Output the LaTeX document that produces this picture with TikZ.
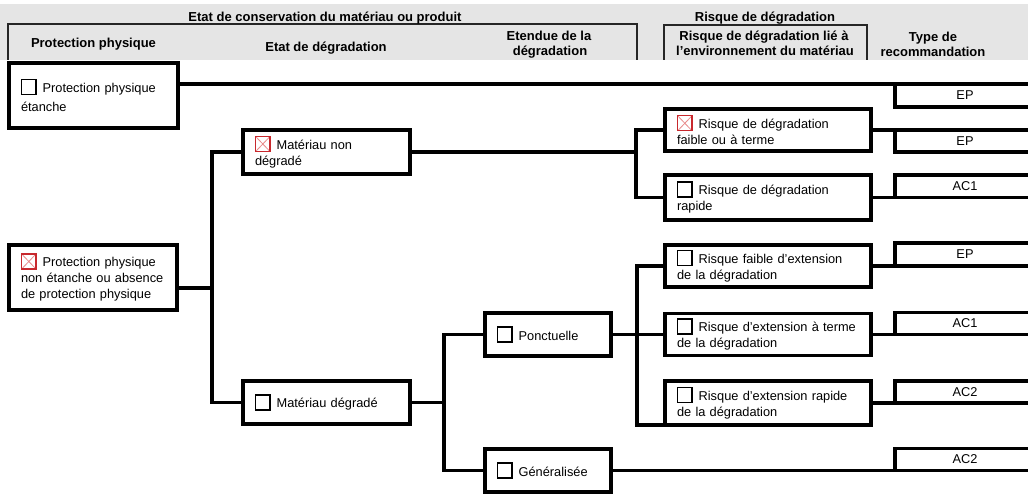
\documentclass[tikz,border=0pt]{standalone}
\usepackage{fontspec}
\setmainfont{Liberation Sans}
\definecolor{hdrgray}{RGB}{229,229,229}
\definecolor{cbred}{RGB}{200,40,45}
\definecolor{cbpink}{RGB}{232,140,140}
\newcommand\bodyfont{\fontsize{12.8}{16}\selectfont}
\newcommand\hdrfont{\bfseries\fontsize{13}{15}\selectfont}
\newcommand\cbk{\tikz[baseline=0pt]\draw[line width=1.3pt,black] (0.65pt,-2pt) rectangle (15pt,13pt);\hspace{6pt}}
\newcommand\cbx{\tikz[baseline=0pt]{\draw[line width=0.8pt,cbpink] (0.65pt,-2pt) -- (15pt,13pt) (0.65pt,13pt) -- (15pt,-2pt); \draw[line width=1.3pt,cbred] (0.65pt,-2pt) rectangle (15pt,13pt);}\hspace{6pt}}
\tikzset{
  box/.style={draw, line width=3.8pt, fill=white, outer sep=0pt, inner xsep=12pt, inner ysep=2pt, align=left, font=\bodyfont, text=black},
  rec/.style={draw, line width=3.8pt, fill=white, outer sep=0pt, inner sep=0pt, minimum width=140pt, font=\bodyfont, text=black},
  link/.style={line width=3.8pt},
  hdr/.style={font=\hdrfont, inner sep=0pt, anchor=base, text=black},
  hframe/.style={line width=1.6pt, draw=black!85}
}
\begin{document}
\begin{tikzpicture}[x=1pt,y=-1pt]
\useasboundingbox (0,0) rectangle (1028,494);
\fill[white] (0,0) rectangle (1028,494);
% header
\fill[hdrgray] (0,4) rectangle (1028,60);
\draw[hframe] (8,60) -- (8,24) -- (637,24) -- (637,60);
\draw[hframe] (664,60) -- (664,25) -- (867,25) -- (867,60);
\node[hdr] (h1) at (325,21.5) {Etat de conservation du matériau ou produit};
\node[hdr] (h2) at (765,21.5) {Risque de dégradation};
\node[hdr] (h3) at (93.5,48) {Protection physique};
\node[hdr] (h4) at (326,52) {Etat de dégradation};
\node[hdr] (h5a) at (549,41) {Etendue de la};
\node[hdr] (h5b) at (550,56) {dégradation};
\node[hdr] (h6a) at (764,41) {Risque de dégradation lié à};
\node[hdr] (h6b) at (765,56) {l'environnement du matériau};
\node[hdr] (h7a) at (933,42) {Type de};
\node[hdr] (h7b) at (933,57) {recommandation};
% boxes
\node[box, text width=145pt, minimum height=65pt] (B1) at (93.5,95.5) {\mbox{\cbk Protection physique}\\[3pt] étanche};
\node[box, text width=143pt, minimum height=44pt] (B2) at (326.5,152) {\mbox{\cbx Matériau non}\\ dégradé};
\node[box, text width=144pt, minimum height=65pt] (B3) at (93,277.5) {\mbox{\cbx Protection physique}\\ \mbox{non étanche ou absence}\\ \mbox{de protection physique}};
\node[box, text width=143pt, minimum height=43pt] (B4) at (326.5,402.5) {\cbk Matériau dégradé};
\node[box, text width=102pt, minimum height=43pt] (B5) at (548,334.5) {\cbk Ponctuelle};
\node[box, text width=102pt, minimum height=43pt] (B6) at (548,470.5) {\cbk Généralisée};
\node[box, text width=182pt, minimum height=42pt] (B7) at (768,130) {\mbox{\cbx Risque de dégradation}\\ faible ou à terme};
\node[box, text width=182pt, minimum height=45pt] (B8) at (768,197.5) {\mbox{\cbk Risque de dégradation}\\ rapide};
\node[box, text width=182pt, minimum height=42pt] (B9) at (768,266) {\mbox{\cbk Risque faible d'extension}\\ de la dégradation};
\node[box, text width=182pt, minimum height=42pt] (B10) at (768,334.5) {\mbox{\cbk Risque d'extension à terme}\\ de la dégradation};
\node[box, text width=182pt, minimum height=44pt] (B11) at (768,403) {\mbox{\cbk Risque d'extension rapide}\\ de la dégradation};
% recommendations
\node[rec, minimum height=23pt] (R1) at (965,95.5) {EP};
\node[rec, minimum height=22pt] (R2) at (965,141) {EP};
\node[rec, minimum height=22.5pt] (R3) at (965,186.25) {AC1};
\node[rec, minimum height=23pt] (R4) at (965,254.5) {EP};
\node[rec, minimum height=22pt] (R5) at (965,323.5) {AC1};
\node[rec, minimum height=22pt] (R6) at (965,392) {AC2};
\node[rec, minimum height=22pt] (R7) at (965,459.5) {AC2};
% junctions
\coordinate (J1) at (212,288);
\coordinate (J2) at (636,152);
\coordinate (J3) at (444,402.5);
\coordinate (J4) at (637,334.5);
% connectors
\draw[link] (B1.east |- R1.north) -- (R1.north west);
\draw[link] (B3.east |- J1) -- (J1);
\draw[link] (B2.west) -| (J1) |- (B4.west);
\draw[link] (B2.east) -- (J2);
\draw[link] (B7.west) -| (J2) |- (B8.west);
\draw[link] (B7.east) -- (R2.north west);
\draw[link] (B8.east) -- (R3.south west);
\draw[link] (B4.east) -- (J3);
\draw[link] (B5.west) -| (J3) |- (B6.west);
\draw[link] (B5.east) -- (B10.west);
\draw[link] (B9.west) -| (J4) |- (B11.south west);
\draw[link] (B9.east) -- (R4.south west);
\draw[link] (B10.east) -- (R5.south west);
\draw[link] (B11.east) -- (R6.south west);
\draw[link] (B6.east) -- (R7.south west);
\end{tikzpicture}
\end{document}
